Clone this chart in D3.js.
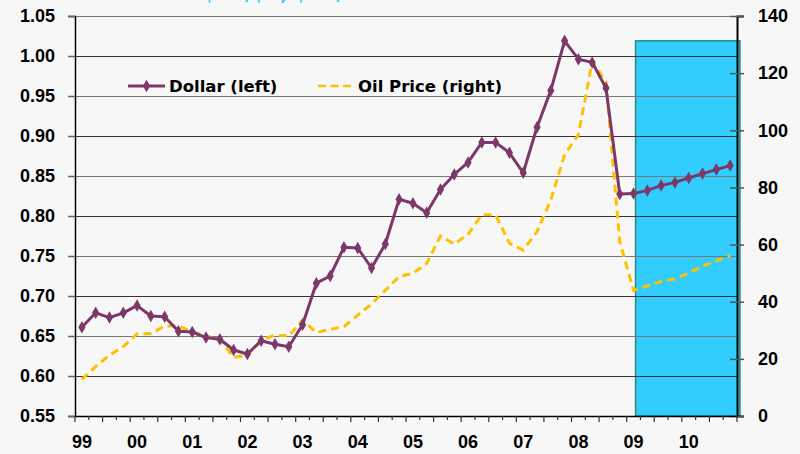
<!DOCTYPE html>
<html>
<head>
<meta charset="utf-8">
<script src="https://cdn.jsdelivr.net/npm/d3@7"></script>
<style>
    body { margin: 0; background: #f7f7f7; }
    svg { display: block; font-family: 'DejaVu Sans', Verdana, sans-serif; font-weight: bold; }
</style>
</head>
<body>
<div id="graph"></div>
<script>
// quarters 1999Q1 .. 2010Q4
var years = ['99', '00', '01', '02', '03', '04', '05', '06', '07', '08', '09', '10'];
var quarters = [];
years.forEach(function(y) {
    for (var q = 1; q <= 4; q++) quarters.push(y + 'Q' + q);
});

// US$ per local currency (left axis)
var dollar = [
    0.661, 0.679, 0.673, 0.679, 0.688, 0.675, 0.674, 0.656,
    0.655, 0.648, 0.646, 0.6325, 0.6275, 0.644, 0.6396, 0.6366,
    0.664, 0.716, 0.725, 0.761, 0.760, 0.735, 0.765, 0.821,
    0.816, 0.804, 0.833, 0.852, 0.867, 0.892, 0.892, 0.879,
    0.854, 0.911, 0.957, 1.019, 0.996, 0.992, 0.960, 0.8275,
    0.828, 0.832, 0.838, 0.842, 0.8475, 0.853, 0.858, 0.863
];

// oil price, US$ per barrel (right axis)
var oil = [
    12.8, 17.3, 21.3, 24.3, 28.7, 28.9, 31.5, 31.5,
    29.5, 28.0, 26.8, 20.5, 21.3, 26.6, 28.3, 28.0,
    33.6, 29.2, 30.3, 31.3, 35.3, 39.2, 44.0, 48.8,
    49.9, 53.4, 63.0, 60.2, 63.6, 70.4, 70.4, 60.4,
    58.1, 64.5, 75.6, 91.5, 98.4, 124.0, 117.0, 61.0,
    44.0, 45.5, 47.1, 48.0, 50.0, 52.4, 54.3, 56.2
];

var leftTicks = [0.55, 0.60, 0.65, 0.70, 0.75, 0.80, 0.85, 0.90, 0.95, 1.00, 1.05];
var rightTicks = [0, 20, 40, 60, 80, 100, 120, 140];
var forecastStart = '09Q1';
var forecastTop = 1.019;

var names = ['Dollar (left)', 'Oil Price (right)'];
var title = '$US/$A, $US/bbl';

var purple = '#7b3868';
var gold = '#ffc000';

var width = 800,
    height = 454,
    plotLeft = 75,
    plotRight = 737,
    plotTop = 16,
    plotBottom = 416;

var svg = d3.select('#graph')
    .append('svg')
        .attr('width', width)
        .attr('height', height);

svg.append('rect')
    .attr('width', width)
    .attr('height', height)
    .attr('fill', '#f7f7f7');

var x = d3.scaleBand()
    .domain(quarters)
    .range([plotLeft, plotRight]);

var y = d3.scaleLinear()
    .domain([0.55, 1.05])
    .range([plotBottom, plotTop]);

var y2 = d3.scaleLinear()
    .domain([0, 140])
    .range([plotBottom, plotTop]);

function cx(i) { return x(quarters[i]) + x.bandwidth() / 2; }

// title, mostly cut off at the top edge
svg.append('text')
    .attr('x', 290)
    .attr('y', 0)
    .attr('text-anchor', 'middle')
    .attr('fill', '#33ccff')
    .style('font-size', '19px')
    .text(title);

// forecast box
var fx = cx(quarters.indexOf(forecastStart)) + 2;
svg.append('rect')
    .attr('x', fx)
    .attr('y', y(forecastTop))
    .attr('width', plotRight + 3 - fx)
    .attr('height', plotBottom - y(forecastTop))
    .attr('fill', '#33ccff')
    .attr('stroke', '#2a8a7c')
    .attr('stroke-width', 1.5);

// gridlines
svg.append('g')
    .selectAll('line')
    .data(leftTicks).enter().append('line')
    .attr('x1', plotLeft)
    .attr('x2', plotRight)
    .attr('y1', function(d) { return Math.round(y(d)) + 0.5; })
    .attr('y2', function(d) { return Math.round(y(d)) + 0.5; })
    .attr('stroke', function(d, i) { return i % 2 ? '#333' : '#777'; })
    .attr('stroke-width', 1.2);

// left axis
var yAxis = svg.append('g')
    .attr('transform', 'translate(' + plotLeft + ',0)')
    .call(d3.axisLeft(y).tickValues(leftTicks).tickFormat(d3.format('.2f')).tickSize(7).tickPadding(13));
yAxis.select('.domain').attr('stroke', '#000').attr('stroke-width', 1.5);
yAxis.selectAll('.tick line').attr('stroke', '#666').attr('stroke-width', 1.5);
yAxis.selectAll('text')
    .style('font-size', '18px')
    .attr('fill', '#000');

// right axis
var y2Axis = svg.append('g')
    .attr('transform', 'translate(' + plotRight + ',0)')
    .call(d3.axisRight(y2).tickValues(rightTicks).tickSize(7).tickPadding(14));
y2Axis.select('.domain').attr('stroke', '#000').attr('stroke-width', 2);
y2Axis.selectAll('.tick line')
    .attr('x1', -7)
    .attr('stroke', '#555')
    .attr('stroke-width', 1.5);
y2Axis.selectAll('text')
    .style('font-size', '18px')
    .attr('fill', '#000');

// bottom axis
var xAxis = svg.append('g')
    .attr('transform', 'translate(0,' + plotBottom + ')')
    .call(d3.axisBottom(x).tickValues([]).tickSize(0));
xAxis.select('.domain').attr('stroke', '#000').attr('stroke-width', 1.5);
xAxis.selectAll('.qtick')
    .data(d3.range(quarters.length + 1)).enter().append('line')
    .attr('x1', function(d) { return plotLeft + d * x.bandwidth(); })
    .attr('x2', function(d) { return plotLeft + d * x.bandwidth(); })
    .attr('y1', 0)
    .attr('y2', function(d) { return d % 2 ? 4 : 6; })
    .attr('stroke', '#333')
    .attr('stroke-width', 1.2);
xAxis.selectAll('.year')
    .data(years).enter().append('text')
    .attr('x', function(d) { return x(d + 'Q1') + x.bandwidth() / 2; })
    .attr('y', 32)
    .attr('text-anchor', 'middle')
    .attr('fill', '#000')
    .style('font-size', '18px')
    .text(function(d) { return d; });

// oil line
svg.append('path')
    .datum(oil)
    .attr('fill', 'none')
    .attr('stroke', gold)
    .attr('stroke-width', 3)
    .attr('stroke-dasharray', '8,5')
    .attr('d', d3.line()
        .x(function(d, i) { return cx(i); })
        .y(function(d) { return y2(d); }));

// dollar line
svg.append('path')
    .datum(dollar)
    .attr('fill', 'none')
    .attr('stroke', purple)
    .attr('stroke-width', 3)
    .attr('stroke-linejoin', 'round')
    .attr('d', d3.line()
        .x(function(d, i) { return cx(i); })
        .y(function(d) { return y(d); }));

var diamond = d3.symbol().type(d3.symbolDiamond).size(45);
svg.append('g')
    .selectAll('path')
    .data(dollar).enter().append('path')
    .attr('transform', function(d, i) { return 'translate(' + cx(i) + ',' + y(d) + ')'; })
    .attr('d', diamond)
    .attr('fill', purple);

// LEGEND ---------------------------------------------------------------
var legend = svg.append('g');
legend.append('line')
    .attr('x1', 128).attr('x2', 165)
    .attr('y1', 86).attr('y2', 86)
    .attr('stroke', purple)
    .attr('stroke-width', 3);
legend.append('path')
    .attr('transform', 'translate(146.5,86)')
    .attr('d', diamond)
    .attr('fill', purple);
legend.append('text')
    .attr('x', 169)
    .attr('y', 92)
    .style('font-size', '16.5px')
    .text(names[0]);
legend.append('line')
    .attr('x1', 318).attr('x2', 351)
    .attr('y1', 86).attr('y2', 86)
    .attr('stroke', gold)
    .attr('stroke-width', 2.5)
    .attr('stroke-dasharray', '8,4.5');
legend.append('text')
    .attr('x', 358)
    .attr('y', 92)
    .style('font-size', '16.5px')
    .text(names[1]);
</script>
</body>
</html>
